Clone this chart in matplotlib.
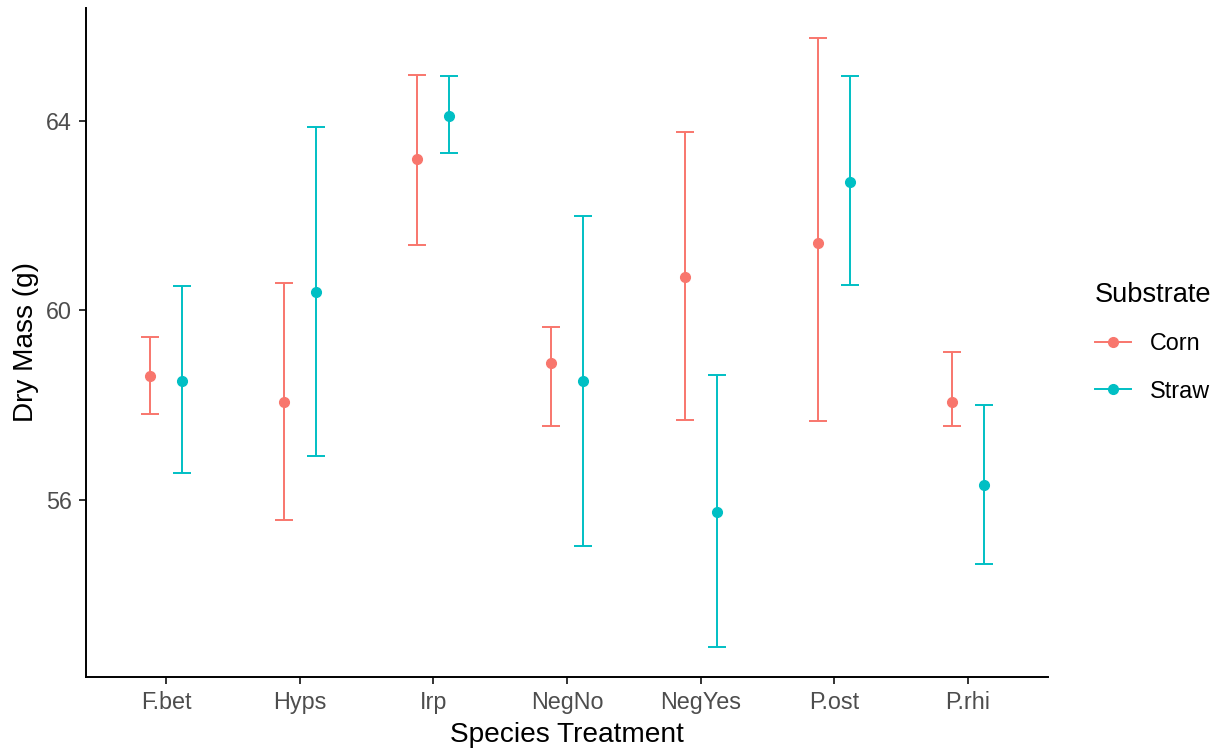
import numpy as np
from matplotlib import pyplot as plt
from matplotlib.lines import Line2D

plt.rcParams['font.family'] = ['Liberation Sans', 'DejaVu Sans']

species = ['F.bet', 'Hyps', 'Irp', 'NegNo', 'NegYes', 'P.ost', 'P.rhi']

# Corn: mean, lower, upper
corn_mean = [58.61, 58.08, 63.19, 58.90, 60.70, 61.43, 58.08]
corn_low = [57.81, 55.59, 61.39, 57.57, 57.68, 57.66, 57.57]
corn_high = [59.45, 60.59, 64.96, 59.66, 63.76, 65.74, 59.13]

# Straw: mean, lower, upper
straw_mean = [58.52, 60.40, 64.11, 58.52, 55.76, 62.72, 56.33]
straw_low = [56.58, 56.94, 63.33, 55.04, 52.91, 60.53, 54.66]
straw_high = [60.51, 63.86, 64.94, 62.00, 58.65, 64.94, 58.00]

corn_col = '#F8766D'
straw_col = '#00BFC4'

fig = plt.figure(figsize=(12.22, 7.51), dpi=100)
ax = fig.add_axes([86/1222, 1-677/751, (1048-86)/1222, (677-8)/751])

x = np.arange(1, len(species)+1)
dodge = 0.12
for xs, m, lo, hi, col in [(x-dodge, corn_mean, corn_low, corn_high, corn_col),
                           (x+dodge, straw_mean, straw_low, straw_high, straw_col)]:
    m = np.array(m)
    ax.errorbar(xs, m, yerr=[m-np.array(lo), np.array(hi)-m], fmt='none',
                ecolor=col, elinewidth=1.4, capsize=6.5, capthick=1.4)
    ax.plot(xs, m, 'o', color=col, markersize=7, linestyle='none')

ax.set_xlim(0.4, 7.6)
ax.set_ylim(52.27, 66.38)
ax.set_xticks(x)
ax.set_xticklabels(species)
ax.set_yticks([56, 60, 64])

for s in ['top', 'right']:
    ax.spines[s].set_visible(False)
for s in ['left', 'bottom']:
    ax.spines[s].set_linewidth(1.4)
    ax.spines[s].set_color('black')
ax.tick_params(axis='both', length=5, width=1.4, color='#333333',
               labelsize=16.8, labelcolor='#4D4D4D', pad=5)

ax.set_xlabel('Species Treatment', fontsize=20.2, labelpad=6)
ax.set_ylabel('Dry Mass (g)', fontsize=20.2, labelpad=5)

handles = [Line2D([], [], color=corn_col, marker='o', markersize=7, linewidth=1.4),
           Line2D([], [], color=straw_col, marker='o', markersize=7, linewidth=1.4)]
leg = ax.legend(handles, ['Corn', 'Straw'], title='Substrate', loc='center left',
                bbox_to_anchor=(1083/1222, 1-342/751), bbox_transform=fig.transFigure,
                frameon=False, fontsize=16.8, title_fontsize=19.6, borderpad=0,
                handlelength=1.55, handletextpad=0.8, labelspacing=1.05)
leg._legend_box.align = 'left'

fig.savefig('out.png', dpi=100)
